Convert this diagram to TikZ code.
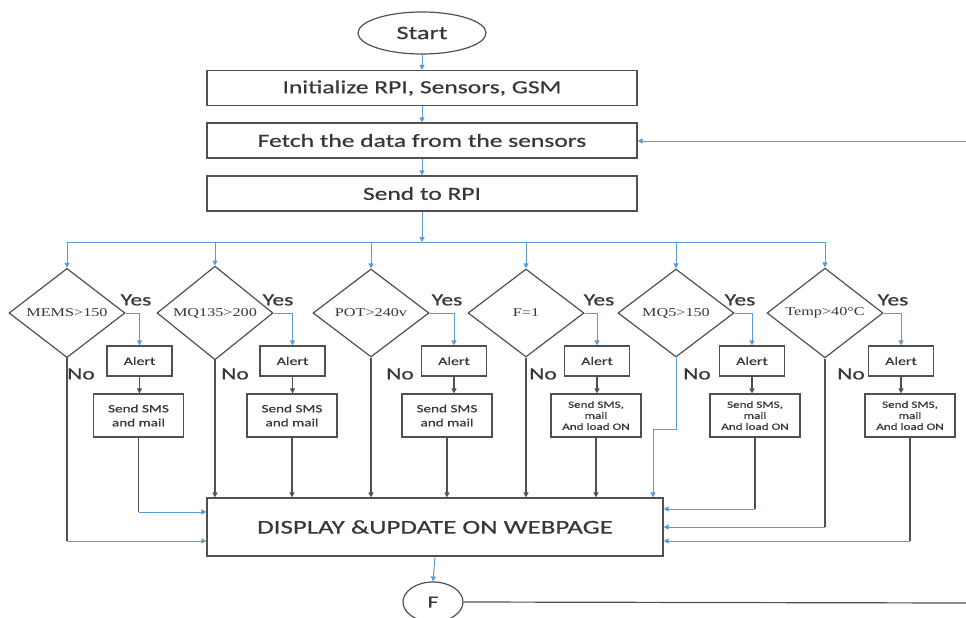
\documentclass[tikz,border=0pt]{standalone}
\usepackage{fontspec}
\setmainfont{Carlito}[FakeStretch=1.38,FakeBold=0.6]
\newfontfamily\serf{Liberation Serif}[FakeStretch=1.35]
\usetikzlibrary{shapes.geometric,arrows.meta}
\definecolor{lblue}{RGB}{91,155,213}
\definecolor{dgray}{RGB}{80,80,80}
\definecolor{tgray}{RGB}{55,55,55}
\tikzset{
  every node/.style={text=tgray},
  boxbig/.style={draw=dgray,line width=1.2pt,minimum width=430pt,minimum height=35pt,inner sep=0pt,font=\fontsize{18.5}{22}\selectfont},
  dec/.style={draw=dgray,line width=1.2pt,shape=diamond,minimum width=116pt,minimum height=88pt,inner sep=0pt,font=\serf\fontsize{12}{14}\selectfont},
  alertbox/.style={draw=dgray,line width=1.2pt,minimum width=65pt,minimum height=30pt,inner sep=0pt,font=\fontsize{11.5}{13}\selectfont},
  smsbox/.style={draw=dgray,line width=1.2pt,minimum width=90pt,minimum height=43pt,inner sep=0pt,align=center,font=\fontsize{11}{14}\selectfont},
  smsthree/.style={smsbox,font=\fontsize{9.5}{11}\selectfont},
  lab/.style={font=\fontsize{17}{20}\selectfont,text=tgray},
  bl/.style={draw=lblue,line width=1pt},
  ba/.style={bl,-{Triangle[length=5pt,width=5pt]}},
  gl/.style={draw=dgray,line width=1.2pt},
  ga/.style={gl,-{Triangle[length=5pt,width=5pt]}},
}
\begin{document}
\begin{tikzpicture}[x=1pt,y=-1pt]
\useasboundingbox (0,0) rectangle (966,618);
% top chain
\node[draw=dgray,line width=1.2pt,ellipse,minimum width=128pt,minimum height=42pt,inner sep=0pt,font=\fontsize{19}{22}\selectfont] (start) at (422,33) {Start};
\node[boxbig] (init) at (422,88) {Initialize RPI, Sensors, GSM};
\node[boxbig] (fetch) at (422,140.5) {Fetch the data from the sensors};
\node[boxbig] (send) at (422,193.5) {Send to RPI};
\coordinate (bus) at (422,242);
\coordinate (busl) at (67,242);
\coordinate (busr) at (825,242);
\coordinate (loopend) at (966,141);
\draw[ba] (start) -- (init);
\draw[ba] (init) -- (fetch);
\draw[ba] (fetch) -- (send);
\draw[ba] (send) -- (bus);
\draw[ba] (loopend) -- (fetch.east |- loopend);
\draw[bl] (busl) -- (busr);
% decisions
\node[dec] (d1) at (67,313) {MEMS>150};
\node[dec] (d2) at (215,313) {MQ135>200};
\node[dec] (d3) at (371,313) {POT>240v};
\node[dec] (d4) at (526,313) {F=1};
\node[dec] (d5) at (676,313) {MQ5>150};
\node[dec] (d6) at (825,313) {Temp>40°C};
\foreach \d in {d1,d2,d3,d4,d5,d6}{\draw[ba] (\d.north |- bus) -- (\d.north);}
% alerts
\node[alertbox] (a1) at (139.5,361) {Alert};
\node[alertbox] (a2) at (292.5,361) {Alert};
\node[alertbox] (a3) at (454,361) {Alert};
\node[alertbox] (a4) at (597,361) {Alert};
\node[alertbox] (a5) at (752,361) {Alert};
\node[alertbox] (a6) at (901,361) {Alert};
% sms
\node[smsbox] (s1) at (138.5,415.5) {Send SMS\\and mail};
\node[smsbox] (s2) at (292,415.5) {Send SMS\\and mail};
\node[smsbox] (s3) at (447,415.5) {Send SMS\\and mail};
\node[smsthree] (s4) at (596,415.5) {Send SMS,\\mail\\And load ON};
\node[smsthree] (s5) at (755,415.5) {Send SMS,\\mail\\And load ON};
\node[smsthree] (s6) at (910,415.5) {Send SMS,\\mail\\And load ON};
\foreach \i in {1,...,6}{
  \draw[ba] (d\i.east) -| (a\i.north);
  \draw[ga] (a\i.south) -- (a\i.south |- s\i.north);
}
% labels
\node[lab] (y1) at (136,300) {Yes};
\node[lab] (y2) at (278,300) {Yes};
\node[lab] (y3) at (447,300) {Yes};
\node[lab] (y4) at (599,300) {Yes};
\node[lab] (y5) at (740,300) {Yes};
\node[lab] (y6) at (893,300) {Yes};
\node[lab] (n1) at (81,374) {No};
\node[lab] (n2) at (235,374) {No};
\node[lab] (n3) at (400,374) {No};
\node[lab] (n4) at (543,374) {No};
\node[lab] (n5) at (697,374) {No};
\node[lab] (n6) at (851,374) {No};
% display
\node[draw=dgray,line width=1.2pt,minimum width=456pt,minimum height=58pt,inner sep=0pt,font=\fontsize{19.5}{22}\selectfont] (disp) at (435,527) {DISPLAY \&UPDATE ON WEBPAGE};
% left side
\coordinate (c1) at (67,541);
\draw[gl] (d1.south) -- (c1);
\draw[ba] (c1) -- (disp.west |- c1);
\coordinate (c2) at (138.5,512);
\draw[gl] (s1.south) -- (c2);
\draw[ba] (c2) -- (disp.west |- c2);
\draw[ga] (d2.south) -- (d2.south |- disp.north);
\draw[ga] (s2.south) -- (s2.south |- disp.north);
\draw[ga] (d3.south) -- (d3.south |- disp.north);
\draw[ga] (s3.south) -- (s3.south |- disp.north);
\draw[ga] (d4.south) -- (d4.south |- disp.north);
\draw[ga] (s4.south) -- (s4.south |- disp.north);
% right side
\coordinate (c5) at (653,429);
\draw[ba] (d5.south) |- (c5) -- (c5 |- disp.north);
\coordinate (c6) at (755,509);
\draw[gl] (s5.south) -- (c6);
\draw[ba] (c6) -- (disp.east |- c6);
\coordinate (c7) at (825,527);
\draw[gl] (d6.south) -- (c7);
\draw[ba] (c7) -- (disp.east |- c7);
\coordinate (c8) at (910,541);
\draw[gl] (s6.south) -- (c8);
\draw[ba] (c8) -- (disp.east |- c8);
% end
\node[draw=dgray,line width=1.2pt,ellipse,minimum width=60pt,minimum height=40pt,inner sep=0pt,font=\fontsize{17}{20}\selectfont] (fin) at (433,602) {F};
\coordinate (fend) at (966,603);
\draw[ba] (disp.south) -- (fin.north);
\draw[gl] (fin.east) -- (fend);
\end{tikzpicture}
\end{document}
